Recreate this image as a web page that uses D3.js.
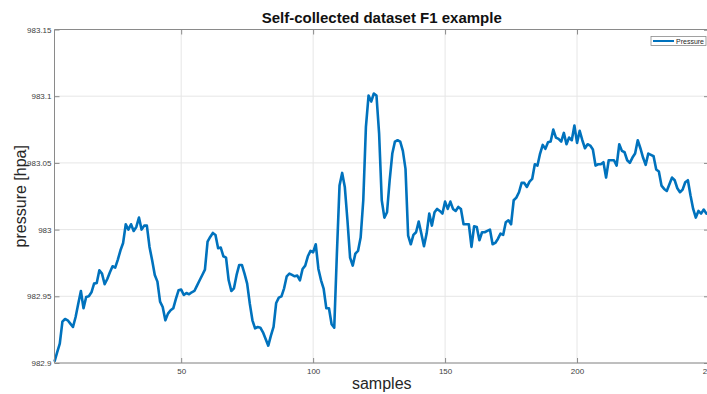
<!DOCTYPE html>
<html>
<head>
<meta charset="utf-8">
<script src="https://cdn.jsdelivr.net/npm/d3@7"></script>
<style>
  html, body { margin: 0; padding: 0; background: #fff; }
  svg { display: block; font-family: "Liberation Sans", Arial, Helvetica, sans-serif; }
</style>
</head>
<body>
<svg id="chart" width="707" height="394"></svg>
<script>
// Pressure readings, one per sample, starting at sample 2
const firstSample = 2;
const pressure = [
  982.901, 982.908, 982.9145, 982.931, 982.933, 982.932, 982.9295, 982.927, 982.9345, 982.9445,
  982.954, 982.941, 982.9495, 982.950, 982.953, 982.9595, 982.960, 982.9695, 982.967, 982.959,
  982.963, 982.968, 982.9725, 982.9715, 982.9775, 982.9845, 982.990, 983.004, 983.000, 983.004,
  982.999, 983.002, 983.009, 983.000, 983.003, 983.003, 982.987, 982.977, 982.966, 982.961,
  982.946, 982.942, 982.932, 982.937, 982.9395, 982.941, 982.948, 982.9545, 982.955, 982.951,
  982.9525, 982.9515, 982.953, 982.954, 982.958, 982.962, 982.966, 982.970, 982.991, 982.9945,
  982.9975, 982.996, 982.986, 982.9865, 982.980, 982.979, 982.962, 982.954, 982.956, 982.966,
  982.9735, 982.9735, 982.967, 982.9595, 982.9445, 982.932, 982.926, 982.927, 982.9265, 982.923,
  982.918, 982.913, 982.9205, 982.927, 982.945, 982.949, 982.950, 982.956, 982.965, 982.967,
  982.966, 982.965, 982.9655, 982.962, 982.9705, 982.973, 982.980, 982.984, 982.983, 982.989,
  982.9705, 982.962, 982.9555, 982.941, 982.941, 982.929, 982.9265, 982.982, 983.033, 983.0425,
  983.032, 983.007, 982.979, 982.973, 982.982, 982.984, 982.994, 983.022, 983.077, 983.1005,
  983.096, 983.102, 983.1005, 983.072, 983.022, 983.009, 983.013, 983.037, 983.057, 983.066,
  983.067, 983.066, 983.059, 983.0455, 982.9955, 982.989, 982.996, 982.998, 983.006, 982.997,
  982.9875, 982.997, 983.012, 983.003, 983.013, 983.0155, 983.014, 983.012, 983.021, 983.0155,
  983.021, 983.0155, 983.014, 983.017, 983.0155, 983.004, 983.004, 983.004, 982.987, 983.0025,
  983.002, 982.992, 982.998, 982.998, 982.999, 983.000, 982.989, 982.990, 982.993, 982.997,
  982.996, 983.0055, 983.007, 983.004, 983.022, 983.024, 983.028, 983.035, 983.035, 983.032,
  983.036, 983.038, 983.049, 983.048, 983.057, 983.0635, 983.0605, 983.0655, 983.066, 983.075,
  983.069, 983.068, 983.066, 983.0725, 983.064, 983.069, 983.067, 983.078, 983.065, 983.074,
  983.067, 983.061, 983.064, 983.063, 983.060, 983.048, 983.049, 983.049, 983.0505, 983.039,
  983.052, 983.052, 983.052, 983.048, 983.064, 983.059, 983.058, 983.052, 983.050, 983.054,
  983.057, 983.067, 983.061, 983.054, 983.0485, 983.057, 983.056, 983.055, 983.045, 983.0435,
  983.033, 983.0305, 983.029, 983.034, 983.039, 983.037, 983.031, 983.028, 983.030, 983.0355,
  983.037, 983.0255, 983.0155, 983.009, 983.014, 983.012, 983.015, 983.012, 983.013
];
const xTicks = [50, 100, 150, 200, 250];
const yTicks = [982.9, 982.95, 983, 983.05, 983.1, 983.15];
const xDomain = [2, 250];
const yDomain = [982.9, 983.15];
const chartTitle = "Self-collected dataset F1 example";
const xLabel = "samples";
const yLabel = "pressure [hpa]";
const seriesName = "Pressure";

const data = pressure.map((v, k) => ({ s: firstSample + k, v }));

const svg = d3.select("#chart");
const m = { left: 54.5, right: 709, top: 29.5, bottom: 363 };
const x = d3.scaleLinear().domain(xDomain).range([m.left, m.right]);
const y = d3.scaleLinear().domain(yDomain).range([m.bottom, m.top]);

const axisColor = "#8a8a8a";
const textColor = "#404040";

// grid
const grid = svg.append("g");
grid.selectAll(".gx").data(xTicks).join("line")
  .attr("x1", d => x(d)).attr("x2", d => x(d))
  .attr("y1", m.top).attr("y2", m.bottom)
  .attr("stroke", "#e6e6e6").attr("stroke-width", 1);
grid.selectAll(".gy").data(yTicks).join("line")
  .attr("x1", m.left).attr("x2", m.right)
  .attr("y1", d => y(d)).attr("y2", d => y(d))
  .attr("stroke", "#e6e6e6").attr("stroke-width", 1);

// line
const line = d3.line().x(d => x(d.s)).y(d => y(d.v));
svg.append("path").datum(data)
  .attr("d", line)
  .attr("fill", "none")
  .attr("stroke", "#0072BD")
  .attr("stroke-width", 2.6)
  .attr("stroke-linejoin", "round");

// axes (ticks point inward)
const fmtY = d => d3.format("")(+d.toFixed(2));
const bottomAxis = d3.axisBottom(x).tickValues(xTicks).tickSize(-5).tickPadding(5).tickFormat(d3.format("d"));
const leftAxis = d3.axisLeft(y).tickValues(yTicks).tickSize(-5).tickPadding(3).tickFormat(fmtY);
const topAxis = d3.axisTop(x).tickValues(xTicks).tickSize(-5).tickFormat("");
const rightAxis = d3.axisRight(y).tickValues(yTicks).tickSize(-5).tickFormat("");

function styleAxis(g) {
  g.select(".domain").attr("stroke", axisColor);
  g.selectAll(".tick line").attr("stroke", axisColor);
  g.selectAll(".tick text").attr("fill", textColor).attr("font-size", 8)
    .attr("font-family", "Liberation Sans, Arial, sans-serif");
}
svg.append("g").attr("transform", `translate(0,${m.bottom})`).call(bottomAxis).call(styleAxis)
  .call(g => g.select(".domain").attr("d", `M${m.left},0H${m.right}`));
svg.append("g").attr("transform", `translate(${m.left},0)`).call(leftAxis).call(styleAxis)
  .call(g => g.select(".domain").attr("d", `M0,${m.top}V${m.bottom}`));
svg.append("g").attr("transform", `translate(0,${m.top})`).call(topAxis).call(styleAxis)
  .call(g => g.select(".domain").attr("d", `M${m.left},0H${m.right}`));
svg.append("g").attr("transform", `translate(${m.right},0)`).call(rightAxis).call(styleAxis);

// title and axis labels
svg.append("text")
  .attr("x", (m.left + m.right) / 2).attr("y", 23)
  .attr("text-anchor", "middle").attr("font-weight", "bold").attr("font-size", 15)
  .attr("fill", "#111").text(chartTitle);
svg.append("text")
  .attr("x", (m.left + m.right) / 2).attr("y", 389)
  .attr("text-anchor", "middle").attr("font-size", 16)
  .attr("fill", "#262626").text(xLabel);
svg.append("text")
  .attr("transform", `translate(26,${(m.top + m.bottom) / 2}) rotate(-90)`)
  .attr("text-anchor", "middle").attr("font-size", 16)
  .attr("fill", "#262626").text(yLabel);

// legend
const lg = svg.append("g").attr("transform", "translate(651,36.5)");
lg.append("rect").attr("width", 55).attr("height", 9)
  .attr("fill", "#fff").attr("stroke", "#8a8a8a").attr("stroke-width", 0.8);
lg.append("line").attr("x1", 2).attr("x2", 23).attr("y1", 4.5).attr("y2", 4.5)
  .attr("stroke", "#0072BD").attr("stroke-width", 2);
lg.append("text").attr("x", 25).attr("y", 7).attr("font-size", 7)
  .attr("fill", "#262626").text(seriesName);
</script>
</body>
</html>
